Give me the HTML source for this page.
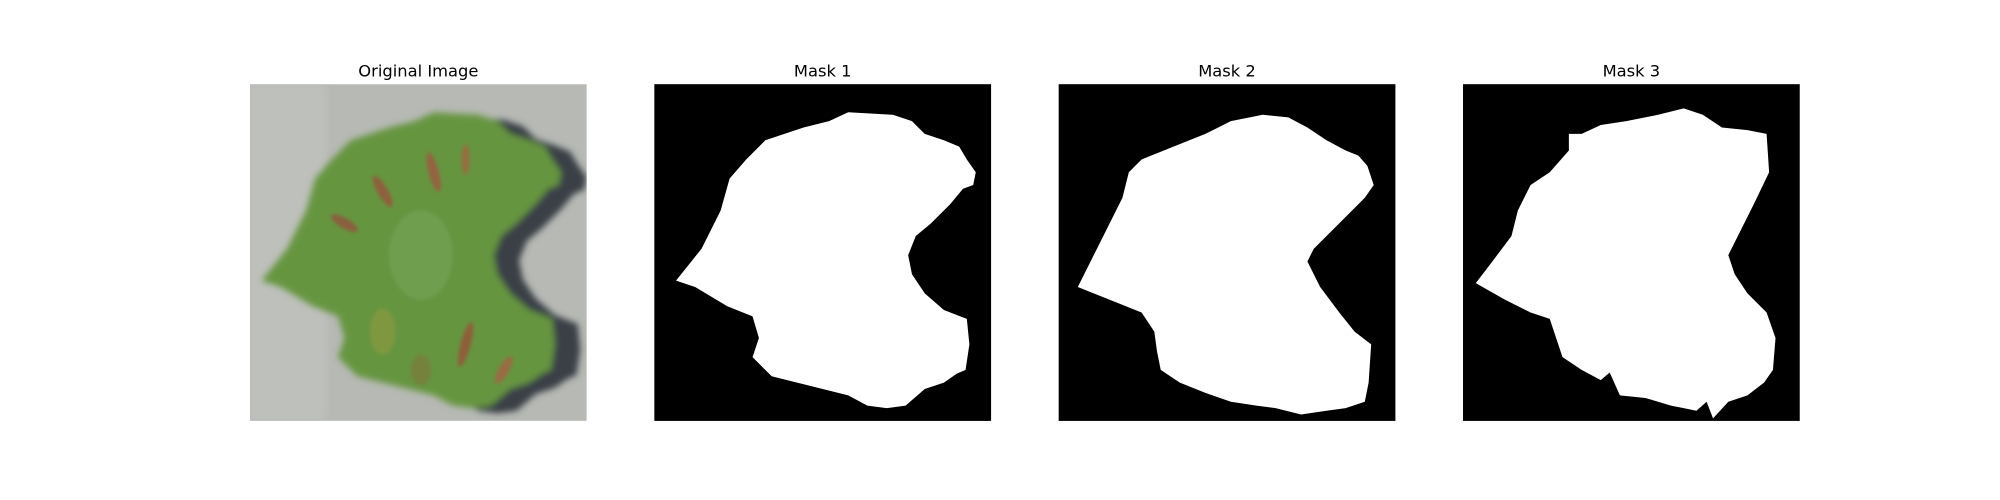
<!DOCTYPE html>
<html><head><meta charset="utf-8"><style>
html,body{margin:0;padding:0;background:#fff;}
svg{display:block;}
text{font-family:"DejaVu Sans","Liberation Sans",sans-serif;font-size:12.8px;fill:#000;}
</style></head><body>
<svg width="2000" height="500" viewBox="0 0 1568 392" preserveAspectRatio="none">
<defs>
<filter id="bl" x="-10%" y="-10%" width="120%" height="120%"><feGaussianBlur stdDeviation="2.5"/></filter>
<filter id="bl2"><feGaussianBlur stdDeviation="1.5"/></filter>
<clipPath id="c0"><rect x="196" y="66" width="264" height="264"/></clipPath>
</defs>
<g>
<text x="328" y="60" text-anchor="middle">Original Image</text>
<g clip-path="url(#c0)">
<rect x="196" y="66" width="264" height="264" fill="#b6b9b4"/>
<rect x="196" y="66" width="60" height="264" fill="#bdc0bb" filter="url(#bl)"/>
<g filter="url(#bl)">
<polygon transform="translate(-305,4)" fill="#3b4146" points="530,220 550,195 565,165 572,140 585,125 600,110 615,105 630,100 650,95 665,88 700,90 715,95 725,105 740,110 752,115 758,125 765,135 763,145 755,148 745,160 730,175 718,185 712,200 715,215 725,230 740,243 758,250 760,270 757,290 750,293 740,300 725,305 710,318 695,320 680,318 665,310 645,305 625,300 605,295 590,280 595,265 590,248 570,240 545,225"/>
<polygon transform="translate(-325,0)" fill="#66953f" points="530,220 550,195 565,165 572,140 585,125 600,110 615,105 630,100 650,95 665,88 700,90 715,95 725,105 740,110 752,115 758,125 765,135 763,145 755,148 745,160 730,175 718,185 712,200 715,215 725,230 740,243 758,250 760,270 757,290 750,293 740,300 725,305 710,318 695,320 680,318 665,310 645,305 625,300 605,295 590,280 595,265 590,248 570,240 545,225"/>
</g>
<g filter="url(#bl2)" opacity="0.7">
<ellipse cx="300" cy="150" rx="4" ry="14" fill="#a04a3a" transform="rotate(-30 300 150)"/>
<ellipse cx="340" cy="135" rx="4" ry="16" fill="#a85040" transform="rotate(-15 340 135)"/>
<ellipse cx="365" cy="125" rx="3" ry="12" fill="#b05a40"/>
<ellipse cx="270" cy="175" rx="4" ry="12" fill="#9a4a3c" transform="rotate(-60 270 175)"/>
<ellipse cx="365" cy="270" rx="4" ry="18" fill="#a04838" transform="rotate(15 365 270)"/>
<ellipse cx="395" cy="290" rx="4" ry="12" fill="#b05a46" transform="rotate(30 395 290)"/>
<ellipse cx="300" cy="260" rx="10" ry="18" fill="#8a9a40"/>
<ellipse cx="330" cy="290" rx="8" ry="12" fill="#7a7a3a"/>
<ellipse cx="330" cy="200" rx="25" ry="35" fill="#74a356"/>
</g>
</g>
</g>
<g>
<text x="645" y="60" text-anchor="middle">Mask 1</text>
<rect x="513" y="66" width="264" height="264" fill="#000"/>
<polygon fill="#fff" points="530,220 550,195 565,165 572,140 585,125 600,110 615,105 630,100 650,95 665,88 700,90 715,95 725,105 740,110 752,115 758,125 765,135 763,145 755,148 745,160 730,175 718,185 712,200 715,215 725,230 740,243 758,250 760,270 757,290 750,293 740,300 725,305 710,318 695,320 680,318 665,310 645,305 625,300 605,295 590,280 595,265 590,248 570,240 545,225"/>
</g>
<g>
<text x="962" y="60" text-anchor="middle">Mask 2</text>
<rect x="830" y="66" width="264" height="264" fill="#000"/>
<polygon fill="#fff" points="845,225 860,195 870,175 880,155 885,135 895,125 920,115 945,105 965,95 990,90 1010,92 1025,100 1040,110 1055,118 1065,122 1072,130 1077,145 1070,155 1055,170 1040,185 1030,195 1025,205 1035,225 1050,245 1062,260 1075,270 1073,300 1070,315 1055,320 1040,322 1020,325 1000,320 985,318 965,315 945,308 925,300 910,290 907,275 905,260 895,245 870,235"/>
</g>
<g>
<text x="1279" y="60" text-anchor="middle">Mask 3</text>
<rect x="1147" y="66" width="264" height="264" fill="#000"/>
<polygon fill="#fff" points="1157,222 1170,205 1185,185 1190,165 1200,145 1215,135 1230,118 1230,105 1240,105 1255,98 1275,95 1300,90 1320,85 1335,90 1350,100 1370,102 1385,105 1387,135 1375,160 1365,180 1355,200 1360,215 1370,230 1385,245 1392,265 1390,290 1383,300 1370,310 1355,315 1343,328 1338,315 1330,322 1320,320 1310,318 1290,312 1270,310 1262,292 1255,298 1240,290 1225,280 1220,265 1215,250 1200,245 1180,235"/>
</g>
</svg>
</body></html>
